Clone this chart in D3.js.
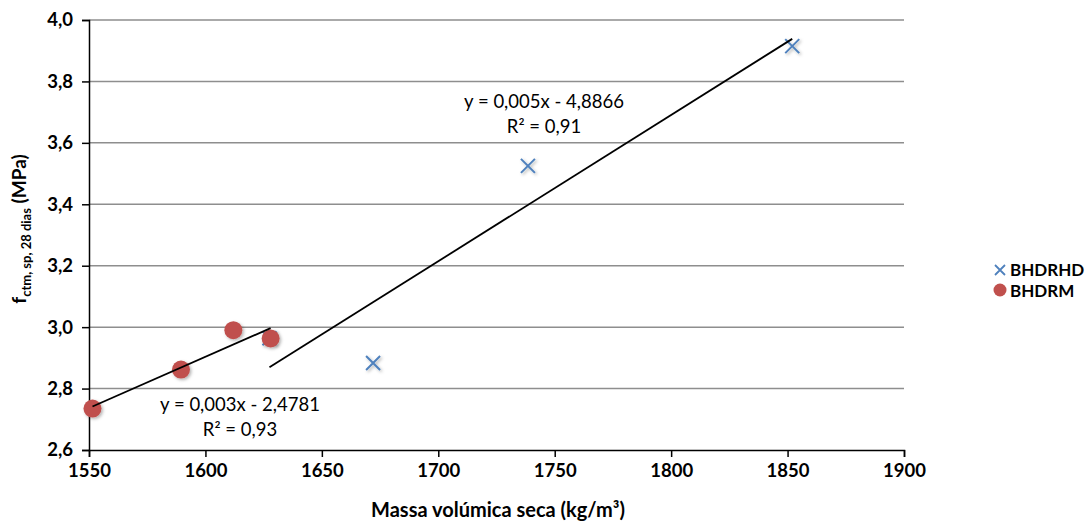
<!DOCTYPE html>
<html>
<head>
<meta charset="utf-8">
<script src="https://cdn.jsdelivr.net/npm/d3@7"></script>
<style>
  body { margin: 0; background: #fff; }
  svg { display: block; font-family: Lato, "Open Sans", sans-serif; }
</style>
</head>
<body>
<svg id="chart" width="1091" height="522"></svg>
<script>
// Dry density (kg/m³) vs. splitting tensile strength at 28 days (MPa)
const seriesNames = ["BHDRHD", "BHDRM"];
const bhdrhdX = [1627.5, 1672, 1738.5, 1852];
const bhdrhdY = [2.964, 2.883, 3.525, 3.915];
const bhdrmX = [1551.5, 1589.5, 1612, 1628];
const bhdrmY = [2.735, 2.862, 2.99, 2.963];
const xTicks = [1550, 1600, 1650, 1700, 1750, 1800, 1850, 1900];
const yTicks = [2.6, 2.8, 3.0, 3.2, 3.4, 3.6, 3.8, 4.0];
const eqBhdrhd = ["y = 0,005x - 4,8866", "R² = 0,91"];
const eqBhdrm = ["y = 0,003x - 2,4781", "R² = 0,93"];

const svg = d3.select("#chart");
const m = { left: 89, right: 904, top: 20, bottom: 450 };

const x = d3.scaleLinear().domain([1550, 1900]).range([m.left, m.right]);
const y = d3.scaleLinear().domain([2.6, 4.0]).range([m.bottom, m.top]);

const defs = svg.append("defs");
const f = defs.append("filter").attr("id", "shadow")
  .attr("x", "-50%").attr("y", "-50%").attr("width", "200%").attr("height", "200%");
f.append("feDropShadow").attr("dx", 1.5).attr("dy", 1.5).attr("stdDeviation", 1.5)
  .attr("flood-color", "#000").attr("flood-opacity", 0.3);

// horizontal gridlines
svg.append("g").selectAll("line")
  .data(yTicks.filter(t => t > 2.6))
  .join("line")
  .attr("x1", m.left).attr("x2", m.right)
  .attr("y1", d => y(d)).attr("y2", d => y(d))
  .attr("stroke", "#8e8e8e").attr("stroke-width", 1.5);

// axes
const fmt = d => d3.format(".1f")(d).replace(".", ",");
const yAxis = svg.append("g").attr("transform", `translate(${m.left},0)`)
  .call(d3.axisLeft(y).tickValues(yTicks).tickFormat(fmt).tickSize(7).tickPadding(9));
const xAxis = svg.append("g").attr("transform", `translate(0,${m.bottom})`)
  .call(d3.axisBottom(x).tickValues(xTicks).tickFormat(d3.format("d")).tickSize(7).tickPadding(7));
[yAxis, xAxis].forEach(a => {
  a.select(".domain").attr("stroke", "#000").attr("stroke-width", 1.5);
  a.selectAll(".tick line").attr("stroke", "#000").attr("stroke-width", 1.5);
  a.selectAll("text").attr("fill", "#000").style("font-size", "18.5px")
    .style("font-weight", "bold").style("font-family", "Lato, sans-serif");
});

// least-squares trendline over the data range
function trend(xs, ys) {
  const mx = d3.mean(xs), my = d3.mean(ys);
  const sxy = d3.sum(xs, (v, i) => (v - mx) * (ys[i] - my));
  const sxx = d3.sum(xs, v => (v - mx) ** 2);
  const b = sxy / sxx, a = my - b * mx;
  const x0 = d3.min(xs), x1 = d3.max(xs);
  return [[x0, a + b * x0], [x1, a + b * x1]];
}
const line = d3.line().x(d => x(d[0])).y(d => y(d[1]));

// BHDRHD crosses (drawn first, beneath the circles)
const s = 7;
svg.append("g").selectAll("path")
  .data(bhdrhdX.map((v, i) => [v, bhdrhdY[i]]))
  .join("path")
  .attr("d", d => {
    const cx = x(d[0]), cy = y(d[1]);
    return `M${cx - s},${cy - s}L${cx + s},${cy + s}M${cx - s},${cy + s}L${cx + s},${cy - s}`;
  })
  .attr("stroke", "#4f81bd").attr("stroke-width", 2).attr("fill", "none")
  .attr("filter", "url(#shadow)");

// BHDRM circles
svg.append("g").selectAll("circle")
  .data(bhdrmX.map((v, i) => [v, bhdrmY[i]]))
  .join("circle")
  .attr("cx", d => x(d[0])).attr("cy", d => y(d[1])).attr("r", 9)
  .attr("fill", "#c0504d").attr("filter", "url(#shadow)");

// trendlines
svg.append("path").attr("d", line(trend(bhdrmX, bhdrmY)))
  .attr("stroke", "#000").attr("stroke-width", 1.8).attr("fill", "none");
svg.append("path").attr("d", line(trend(bhdrhdX, bhdrhdY)))
  .attr("stroke", "#000").attr("stroke-width", 1.8).attr("fill", "none");

// trendline equations
function eq(lines, cx, cy) {
  svg.append("g").selectAll("text").data(lines).join("text")
    .attr("x", cx).attr("y", (d, i) => cy + i * 25)
    .attr("text-anchor", "middle")
    .style("font-size", "18.5px").attr("fill", "#000")
    .text(d => d);
}
eq(eqBhdrhd, 544, 108);
eq(eqBhdrm, 240, 411);

// axis titles
svg.append("text").attr("x", 498).attr("y", 517).attr("text-anchor", "middle")
  .style("font-size", "20px").style("font-weight", "bold")
  .text("Massa volúmica seca (kg/m³)");

const yt = svg.append("text")
  .attr("transform", "translate(26,229) rotate(-90)")
  .attr("text-anchor", "middle")
  .style("font-size", "19px").style("font-weight", "bold");
yt.append("tspan").text("f");
yt.append("tspan").attr("dy", 5).style("font-size", "13px").text("ctm, sp, 28 dias");
yt.append("tspan").attr("dy", -5).text(" (MPa)");

// legend
const lg = svg.append("g");
const lx = 1000;
lg.append("path")
  .attr("d", `M${lx - 5},${265}L${lx + 5},${275}M${lx - 5},${275}L${lx + 5},${265}`)
  .attr("stroke", "#4f81bd").attr("stroke-width", 1.8).attr("fill", "none");
lg.append("circle").attr("cx", lx).attr("cy", 290).attr("r", 6.5).attr("fill", "#c0504d");
lg.selectAll("text").data(seriesNames).join("text")
  .attr("x", 1010).attr("y", (d, i) => 276 + i * 21)
  .style("font-size", "17px").style("font-weight", "bold")
  .text(d => d);
</script>
</body>
</html>
